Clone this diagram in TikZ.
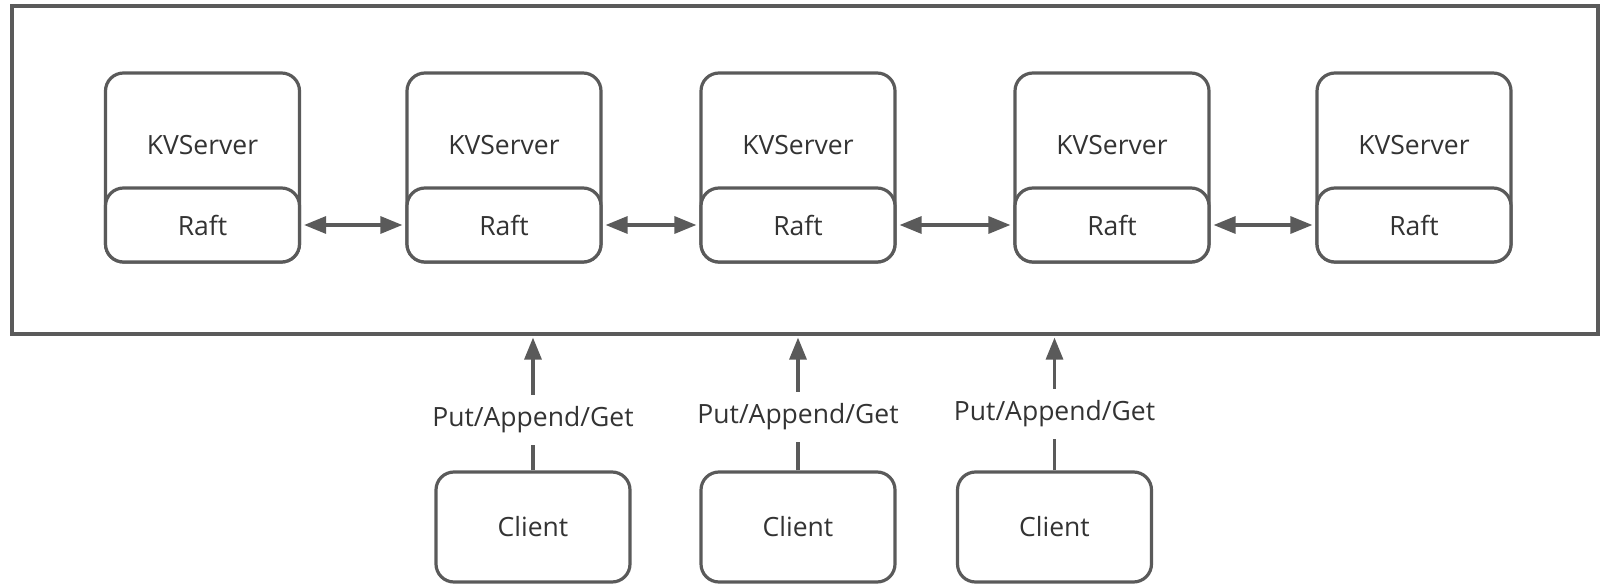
\documentclass[tikz,border=0pt]{standalone}
\usepackage{fontspec}
\setmainfont{Open Sans}
\usetikzlibrary{arrows.meta}
\definecolor{ln}{HTML}{5A5A5A}
\definecolor{tx}{HTML}{333333}
\tikzset{
  box/.style={draw=ln, line width=3.2pt, rounded corners=18pt, minimum width=194pt, inner sep=0pt, text=tx, font=\fontsize{26.5}{31}\selectfont},
  lbl/.style={fill=white, text=tx, inner sep=0pt, minimum height=50pt, font=\fontsize{26.5}{31}\selectfont},
  arr/.style={draw=ln, line width=3.2pt, -{Triangle[length=22pt,width=17pt]}},
  darr/.style={draw=ln, line width=3.2pt, {Triangle[length=22pt,width=17pt]}-{Triangle[length=22pt,width=17pt]}, shorten >=3pt, shorten <=3pt}
}
\begin{document}
\begin{tikzpicture}[x=1pt,y=-1pt]
\useasboundingbox (0,0) rectangle (1614,588);
\node[draw=ln, line width=3.2pt, minimum width=1586pt, minimum height=328pt, inner sep=0pt] (sys) at (805,170) {};
\foreach \i/\x in {1/202.5,2/504,3/798,4/1112,5/1414}{
  \node[box, minimum height=189pt] (k\i) at (\x,167.5) {};
  \node[box, minimum height=74pt, fill=white] (r\i) at (\x,225) {Raft};
  \node[text=tx, font=\fontsize{26.5}{31}\selectfont] (t\i) at (\x,145) {KVServer};
}
\foreach \a/\b in {1/2,2/3,3/4,4/5}{
  \draw[darr] (r\a.east) -- (r\b.west);
}
\foreach \i/\x/\ly in {1/533/420,2/798/417,3/1054.5/414}{
  \node[box, minimum height=110pt] (c\i) at (\x,527) {Client};
  \draw[arr, shorten >=2pt] (c\i.north) -- (c\i.north |- sys.south);
  \node[lbl] (l\i) at (\x,\ly) {Put/Append/Get};
}
\end{tikzpicture}
\end{document}
